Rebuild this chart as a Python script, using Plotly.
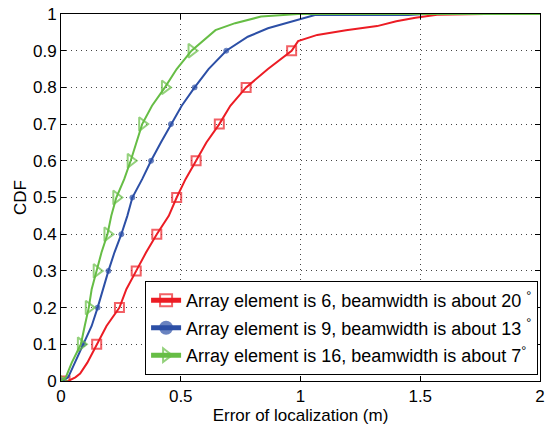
import plotly.graph_objects as go

# Series 1: Array element 6 (~20 deg beamwidth)
red_x = [0.017, 0.03, 0.06, 0.08, 0.11, 0.149, 0.19, 0.244, 0.273, 0.314, 0.355, 0.40, 0.45, 0.483,
         0.52, 0.564, 0.607, 0.661, 0.707, 0.773, 0.864, 0.963, 0.99, 1.07, 1.19, 1.32, 1.40, 1.48,
         1.57, 1.77, 2.0]
red_y = [0.0, 0.0, 0.01, 0.02, 0.05, 0.1, 0.15, 0.2, 0.25, 0.3, 0.35, 0.4, 0.45, 0.5,
         0.55, 0.6, 0.65, 0.7, 0.75, 0.8, 0.85, 0.9, 0.926, 0.943, 0.956, 0.967, 0.98, 0.99,
         0.998, 1.0, 1.0]

# Series 2: Array element 9 (~13 deg)
blue_x = [0.005, 0.03, 0.058, 0.092, 0.128, 0.153, 0.174, 0.198, 0.223, 0.252, 0.277, 0.298,
          0.339, 0.376, 0.417, 0.459, 0.504, 0.558, 0.616, 0.69, 0.78, 0.864, 0.946, 1.04,
          1.06, 1.45, 1.52, 2.0]
blue_y = [0.0, 0.01, 0.05, 0.1, 0.15, 0.2, 0.25, 0.3, 0.35, 0.4, 0.45, 0.5,
          0.55, 0.6, 0.65, 0.7, 0.75, 0.8, 0.85, 0.9, 0.938, 0.961, 0.976, 0.993,
          0.997, 0.997, 1.0, 1.0]

# Series 3: Array element 16 (~7 deg)
green_x = [0.0, 0.02, 0.045, 0.083, 0.099, 0.116, 0.128, 0.149, 0.169, 0.194, 0.21, 0.231,
           0.264, 0.291, 0.314, 0.339, 0.38, 0.434, 0.483, 0.545, 0.645, 0.727, 0.835, 0.99, 2.0]
green_y = [0.0, 0.01, 0.05, 0.1, 0.15, 0.2, 0.25, 0.3, 0.35, 0.4, 0.45, 0.5,
           0.55, 0.6, 0.65, 0.7, 0.75, 0.8, 0.85, 0.9, 0.956, 0.975, 0.993, 1.0, 1.0]

names = [
    "Array element is 6, beamwidth is about 20 <sup>°</sup>",
    "Array element is 9, beamwidth is about 13 <sup>°</sup>",
    "Array element is 16, beamwidth is about 7<sup>°</sup>",
]
colors = ["#ec1c24", "#2c4fa6", "#66bd45"]
symbols = ["square-open", "circle", "triangle-right-open"]
msizes = [9, 5, 12]

x_ticks = [0, 0.5, 1, 1.5, 2]
x_ticklabels = ["0", "0.5", "1", "1.5", "2"]
y_ticks = [i / 10 for i in range(11)]
y_ticklabels = ["0", "0.1", "0.2", "0.3", "0.4", "0.5", "0.6", "0.7", "0.8", "0.9", "1"]


def marker_sizes(ys, size):
    seen = set()
    out = []
    for y in ys:
        k = round(y * 10)
        if abs(y * 10 - k) < 1e-9 and k <= 9 and k not in seen:
            seen.add(k)
            out.append(size)
        else:
            out.append(0)
    return out


fig = go.Figure()
series = [(red_x, red_y), (blue_x, blue_y), (green_x, green_y)]
for i, (xs, ys) in enumerate(series):
    fig.add_trace(go.Scatter(
        x=xs, y=ys, mode="lines+markers", name=names[i],
        legendgroup=f"g{i}",
        line=dict(color=colors[i], width=2),
        marker=dict(symbol=symbols[i], size=marker_sizes(ys, msizes[i]), color=colors[i],
                    line=dict(color=colors[i], width=2 if i != 1 else 1)),
    ))

font_family = "Liberation Sans"
grid_dash = "1px,4px"
fig.update_layout(
    width=549, height=429,
    margin=dict(l=61, r=4, t=14, b=48),
    paper_bgcolor="white", plot_bgcolor="white",
    font=dict(family=font_family, size=17, color="black"),
    showlegend=True,
    legend=dict(
        x=0.996, y=0.016, xanchor="right", yanchor="bottom",
        bgcolor="white", bordercolor="black", borderwidth=1,
        font=dict(size=18, family=font_family),
        tracegroupgap=1, traceorder="grouped",
        itemsizing="constant",
    ),
    xaxis=dict(
        range=[0, 2], tickvals=x_ticks, ticktext=x_ticklabels,
        ticks="inside", ticklen=5, tickcolor="black", mirror="ticks",
        showline=True, linecolor="black", linewidth=1,
        showgrid=True, gridcolor="#444444", griddash=grid_dash, gridwidth=1,
        zeroline=False, ticklabeloverflow="allow",
        title=dict(text="Error of localization (m)", standoff=3, font=dict(size=17)),
        tickfont=dict(size=17),
    ),
    yaxis=dict(
        range=[0, 1], tickvals=y_ticks, ticktext=y_ticklabels,
        ticks="inside", ticklen=5, tickcolor="black", mirror="ticks",
        showline=True, linecolor="black", linewidth=1,
        showgrid=True, gridcolor="#444444", griddash=grid_dash, gridwidth=1,
        zeroline=False, ticklabeloverflow="allow",
        title=dict(text="CDF", standoff=2, font=dict(size=17)),
        tickfont=dict(size=17),
    ),
)

fig.write_html("out.html")
